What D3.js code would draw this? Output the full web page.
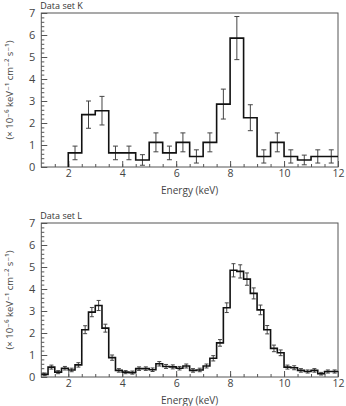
<!DOCTYPE html>
<meta charset="utf-8">
<style>
  body { margin: 0; background: #fff; }
  * { font-family: 'Open Sans', 'DejaVu Sans', sans-serif; }
</style>
<svg width="346" height="406"></svg>
<script src="https://d3js.org/d3.v7.min.js"></script>
<script>
// Data set K: 0.5 keV bins from 2 to 12
var kStart = 2, kWidth = 0.5;
var kValues = [0.64, 2.38, 2.56, 0.64, 0.64, 0.32, 1.12, 0.64, 1.12, 0.48,
               1.12, 2.86, 5.86, 2.24, 0.48, 1.12, 0.48, 0.32, 0.48, 0.48];
var kErrors = [0.31, 0.62, 0.65, 0.31, 0.31, 0.24, 0.43, 0.31, 0.43, 0.3,
               0.43, 0.68, 0.98, 0.59, 0.3, 0.43, 0.3, 0.22, 0.3, 0.3];

// Data set L: 0.25 keV bins from 1 to 12
var lStart = 1, lWidth = 0.25;
var lValues = [0.12, 0.45, 0.22, 0.4, 0.32, 0.55, 2.15, 2.95, 3.25, 2.22, 0.88,
               0.3, 0.22, 0.2, 0.38, 0.38, 0.33, 0.6, 0.48, 0.46, 0.4, 0.5,
               0.3, 0.32, 0.5, 0.85, 1.55, 3.15, 4.85, 4.8, 4.45, 3.8, 3.05,
               2.15, 1.3, 1.1, 0.45, 0.42, 0.3, 0.25, 0.3, 0.15, 0.25, 0.25];
var lErrors = [0.06, 0.09, 0.07, 0.08, 0.08, 0.1, 0.18, 0.21, 0.23, 0.18, 0.12,
               0.08, 0.07, 0.07, 0.08, 0.08, 0.08, 0.1, 0.09, 0.09, 0.08, 0.09,
               0.08, 0.08, 0.09, 0.12, 0.15, 0.22, 0.3, 0.3, 0.28, 0.25, 0.22,
               0.19, 0.15, 0.13, 0.09, 0.09, 0.08, 0.07, 0.08, 0.06, 0.07, 0.07];

var xTicks = [2, 4, 6, 8, 10, 12];
var yTicks = [0, 1, 2, 3, 4, 5, 6, 7];
var yLabel = "(\u00d7 10\u207b\u2076 keV\u207b\u00b9 cm\u207b\u00b2 s\u207b\u00b9)";

var svg = d3.select("svg");

var x = d3.scaleLinear().domain([1, 12]).range([41.3, 338]);

function panel(top, bottom, title, start, width, values, errors, capW, startFromZero) {
  var y = d3.scaleLinear().domain([0, 7]).range([bottom, top]);
  var g = svg.append("g");

  // frame
  g.append("rect")
      .attr("x", x(1)).attr("y", y(7))
      .attr("width", x(12) - x(1)).attr("height", y(0) - y(7))
      .attr("fill", "none").attr("stroke", "#555").attr("stroke-width", 1);

  // minor ticks
  g.append("g")
      .attr("transform", "translate(" + x(1) + ",0)")
      .call(d3.axisLeft(y).tickValues(d3.range(0, 7.01, 0.2)).tickSize(-3).tickFormat(""))
      .call(function(a) { a.select(".domain").remove(); a.selectAll("line").attr("stroke", "#555"); });
  g.append("g")
      .attr("transform", "translate(0," + y(0) + ")")
      .call(d3.axisBottom(x).tickValues(d3.range(1.5, 12, 0.5)).tickSize(-3).tickFormat(""))
      .call(function(a) { a.select(".domain").remove(); a.selectAll("line").attr("stroke", "#555"); });

  // major ticks + labels
  g.append("g")
      .attr("transform", "translate(" + x(1) + ",0)")
      .call(d3.axisLeft(y).tickValues(yTicks).tickSize(-6).tickPadding(6).tickFormat(d3.format("d")))
      .call(function(a) {
        a.select(".domain").remove();
        a.selectAll("line").attr("stroke", "#555");
        a.selectAll("text").attr("fill", "#444").style("font-size", "11px");
      });
  g.append("g")
      .attr("transform", "translate(0," + y(0) + ")")
      .call(d3.axisBottom(x).tickValues(xTicks).tickSize(-6).tickPadding(3).tickFormat(d3.format("d")))
      .call(function(a) {
        a.select(".domain").remove();
        a.selectAll("line").attr("stroke", "#555");
        a.selectAll("text").attr("fill", "#444").style("font-size", "10.5px");
      });

  g.append("text")
      .attr("x", (x(1) + x(12)) / 2).attr("y", bottom + 27)
      .attr("text-anchor", "middle").attr("fill", "#444")
      .style("font-size", "10px")
      .text("Energy (keV)");

  g.append("text")
      .attr("transform", "translate(13," + (top + bottom) / 2 + ") rotate(-90)")
      .attr("text-anchor", "middle").attr("fill", "#444")
      .style("font-size", "9.5px")
      .text(yLabel);

  g.append("text")
      .attr("x", x(1) - 1).attr("y", top - 4)
      .attr("fill", "#333")
      .style("font-size", "9px")
      .text(title);

  // error bars
  var bins = values.map(function(v, i) {
    return { lo: start + i * width, hi: start + (i + 1) * width, v: v, e: errors[i] };
  });
  var eb = g.append("g").attr("stroke", "#444").attr("stroke-width", 1);
  bins.forEach(function(b) {
    var cx = x((b.lo + b.hi) / 2);
    eb.append("line").attr("x1", cx).attr("x2", cx).attr("y1", y(b.v - b.e)).attr("y2", y(b.v + b.e));
    eb.append("line").attr("x1", cx - capW).attr("x2", cx + capW).attr("y1", y(b.v - b.e)).attr("y2", y(b.v - b.e));
    eb.append("line").attr("x1", cx - capW).attr("x2", cx + capW).attr("y1", y(b.v + b.e)).attr("y2", y(b.v + b.e));
  });

  // step histogram
  var pts = [];
  if (startFromZero) pts.push([start, 0]);
  bins.forEach(function(b) { pts.push([b.lo, b.v]); pts.push([b.hi, b.v]); });
  g.append("path")
      .attr("d", d3.line().x(function(d) { return x(d[0]); }).y(function(d) { return y(d[1]); })(pts))
      .attr("fill", "none").attr("stroke", "#111").attr("stroke-width", 1.6);
}

panel(13, 167, "Data set K", kStart, kWidth, kValues, kErrors, 2.5, true);
panel(223, 377, "Data set L", lStart, lWidth, lValues, lErrors, 2, false);
</script>
